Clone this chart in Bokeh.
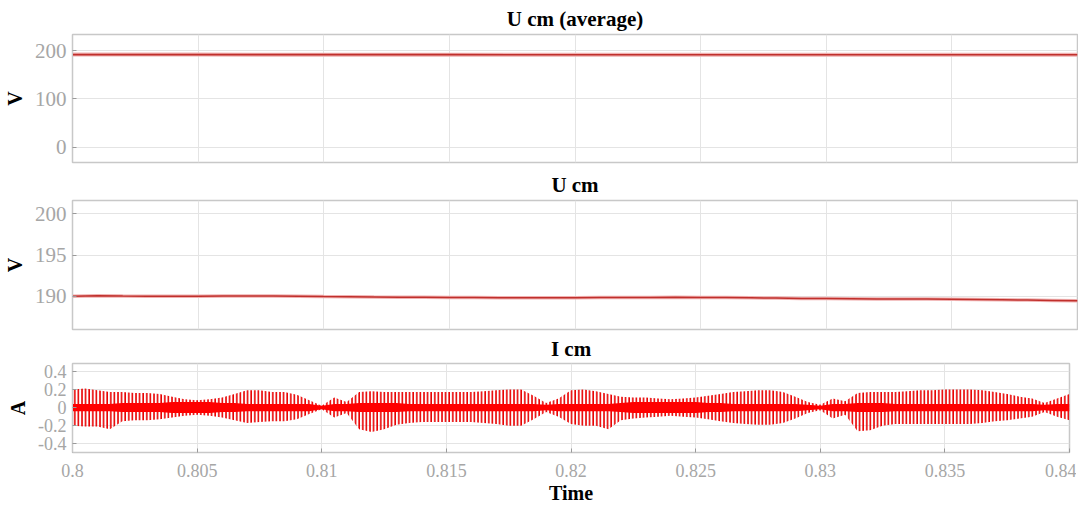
import numpy as np
from bokeh.plotting import figure
from bokeh.layouts import column
from bokeh.models import FixedTicker, Range1d
from bokeh.embed import file_html
from bokeh.resources import INLINE

# ---------------- data ----------------
# x axis
x_ticks = [0.8, 0.805, 0.81, 0.815, 0.82, 0.825, 0.83, 0.835, 0.84]
x_tick_labels = ["0.8", "0.805", "0.81", "0.815", "0.82", "0.825", "0.83", "0.835", "0.84"]

# panel 1 : U cm (average)
t_avg = [0.800, 0.805, 0.810, 0.815, 0.820, 0.825, 0.830, 0.835, 0.840]
u_avg = [192.2, 192.2, 192.1, 192.1, 192.0, 192.0, 191.9, 191.9, 191.8]
avg_ticks = [0, 100, 200]

# panel 2 : U cm
t_u = [0.800, 0.801, 0.802, 0.803, 0.804, 0.805, 0.806, 0.807, 0.808, 0.809,
       0.810, 0.811, 0.812, 0.813, 0.814, 0.815, 0.816, 0.817, 0.818, 0.819,
       0.820, 0.821, 0.822, 0.823, 0.824, 0.825, 0.826, 0.827, 0.828, 0.829,
       0.830, 0.831, 0.832, 0.833, 0.834, 0.835, 0.836, 0.837, 0.838, 0.839,
       0.840]
u_cm = [190.02, 190.07, 190.04, 190.03, 190.03, 190.03, 190.04, 190.05, 190.05, 190.02,
        189.98, 189.95, 189.92, 189.90, 189.90, 189.88, 189.86, 189.84, 189.84, 189.84,
        189.85, 189.86, 189.87, 189.88, 189.89, 189.88, 189.86, 189.84, 189.80, 189.76,
        189.74, 189.72, 189.70, 189.68, 189.68, 189.66, 189.63, 189.60, 189.56, 189.52,
        189.48]
u_ticks = [190, 195, 200]

# panel 3 : I cm  (envelope of the oscillation, every 0.5 ms)
t_i = [0.8000, 0.8005, 0.8010, 0.8015, 0.8020, 0.8025, 0.8030, 0.8035, 0.8040, 0.8045,
       0.8050, 0.8055, 0.8060, 0.8065, 0.8070, 0.8075, 0.8080, 0.8085, 0.8090, 0.8095,
       0.8100, 0.8105, 0.8110, 0.8115, 0.8120, 0.8125, 0.8130, 0.8135, 0.8140, 0.8145,
       0.8150, 0.8155, 0.8160, 0.8165, 0.8170, 0.8175, 0.8180, 0.8185, 0.8190, 0.8195,
       0.8200, 0.8205, 0.8210, 0.8215, 0.8220, 0.8225, 0.8230, 0.8235, 0.8240, 0.8245,
       0.8250, 0.8255, 0.8260, 0.8265, 0.8270, 0.8275, 0.8280, 0.8285, 0.8290, 0.8295,
       0.8300, 0.8305, 0.8310, 0.8315, 0.8320, 0.8325, 0.8330, 0.8335, 0.8340, 0.8345,
       0.8350, 0.8355, 0.8360, 0.8365, 0.8370, 0.8375, 0.8380, 0.8385, 0.8390, 0.8395,
       0.8400]
i_upper = [0.20, 0.21, 0.19, 0.17, 0.17, 0.16, 0.16, 0.15, 0.12, 0.09,
           0.08, 0.09, 0.11, 0.15, 0.19, 0.19, 0.17, 0.17, 0.14, 0.08,
           0.02, 0.11, 0.06, 0.17, 0.18, 0.17, 0.17, 0.17, 0.17, 0.17,
           0.17, 0.17, 0.17, 0.18, 0.19, 0.20, 0.20, 0.13, 0.05, 0.10,
           0.19, 0.20, 0.18, 0.15, 0.12, 0.11, 0.11, 0.10, 0.09, 0.10,
           0.11, 0.13, 0.15, 0.17, 0.18, 0.19, 0.19, 0.17, 0.12, 0.06,
           0.03, 0.10, 0.07, 0.16, 0.17, 0.17, 0.17, 0.18, 0.19, 0.19,
           0.20, 0.20, 0.20, 0.19, 0.17, 0.15, 0.12, 0.10, 0.05, 0.10,
           0.15]
i_lower = [-0.20, -0.21, -0.21, -0.24, -0.15, -0.14, -0.14, -0.13, -0.11, -0.09,
           -0.08, -0.09, -0.11, -0.14, -0.17, -0.16, -0.15, -0.15, -0.13, -0.07,
           -0.02, -0.11, -0.06, -0.24, -0.27, -0.24, -0.19, -0.17, -0.16, -0.16,
           -0.16, -0.16, -0.16, -0.17, -0.18, -0.20, -0.20, -0.13, -0.05, -0.10,
           -0.18, -0.20, -0.20, -0.24, -0.14, -0.12, -0.11, -0.10, -0.09, -0.10,
           -0.11, -0.13, -0.15, -0.17, -0.18, -0.19, -0.19, -0.17, -0.12, -0.06,
           -0.03, -0.12, -0.08, -0.26, -0.25, -0.20, -0.18, -0.18, -0.18, -0.18,
           -0.18, -0.18, -0.18, -0.17, -0.15, -0.14, -0.12, -0.10, -0.05, -0.10,
           -0.14]
i_inner = [0.04, 0.04, 0.04, 0.04, 0.05, 0.05, 0.05, 0.05, 0.06, 0.06,
           0.06, 0.06, 0.05, 0.05, 0.04, 0.04, 0.04, 0.04, 0.04, 0.04,
           0.02, 0.04, 0.04, 0.05, 0.05, 0.05, 0.05, 0.04, 0.04, 0.04,
           0.04, 0.04, 0.04, 0.04, 0.04, 0.04, 0.04, 0.04, 0.03, 0.04,
           0.04, 0.04, 0.04, 0.04, 0.05, 0.06, 0.06, 0.06, 0.06, 0.06,
           0.06, 0.05, 0.05, 0.04, 0.04, 0.04, 0.04, 0.04, 0.04, 0.03,
           0.02, 0.04, 0.04, 0.05, 0.05, 0.05, 0.04, 0.04, 0.04, 0.04,
           0.04, 0.04, 0.04, 0.04, 0.04, 0.04, 0.04, 0.04, 0.03, 0.04,
           0.04]
i_ticks = [-0.4, -0.2, 0, 0.2, 0.4]
i_tick_labels = ["-0.4", "-0.2", "0", "0.2", "0.4"]

# ---------------- styling ----------------
SERIF = "Liberation Serif"
TICK_COLOR = "#a6a6a6"
GRID_COLOR = "#e4e4e4"
FRAME_COLOR = "#c8c8c8"


def style(p, yticks, ylabels, ylabel, title, show_x, tick_size, title_standoff):
    p.title.text = title
    p.title.align = "center"
    p.title.text_font = SERIF
    p.title.text_font_style = "bold"
    p.title.text_font_size = "21px"
    p.title.text_color = "black"
    p.title.offset = 0
    p.title.standoff = title_standoff

    p.outline_line_color = FRAME_COLOR
    p.outline_line_width = 1.5
    p.background_fill_color = "white"
    p.border_fill_color = "white"

    p.xaxis.ticker = FixedTicker(ticks=x_ticks)
    p.xaxis.major_label_overrides = {t: l for t, l in zip(x_ticks, x_tick_labels)}
    p.yaxis.ticker = FixedTicker(ticks=yticks)
    p.yaxis.major_label_overrides = {t: l for t, l in zip(yticks, ylabels)}

    for ax in (p.xaxis, p.yaxis):
        ax.axis_line_color = FRAME_COLOR
        ax.major_tick_line_color = "#9a9a9a"
        ax.major_tick_in = 4
        ax.major_tick_out = 0
        ax.minor_tick_line_color = None
        ax.major_label_text_font = SERIF
        ax.major_label_text_color = TICK_COLOR
        ax.axis_label_text_font = SERIF
        ax.axis_label_text_font_style = "bold"
        ax.axis_label_text_color = "black"

    p.yaxis.major_label_text_font_size = tick_size
    p.yaxis.axis_label = ylabel
    p.yaxis.axis_label_text_font_size = "20px"
    p.yaxis.axis_label_standoff = 6
    p.yaxis.major_label_standoff = 6

    if show_x:
        p.xaxis.major_label_text_font_size = "18px"
        p.xaxis.axis_label = "Time"
        p.xaxis.axis_label_text_font_size = "20px"
        p.xaxis.axis_label_standoff = 2
        p.xaxis.major_label_standoff = 11
    else:
        p.xaxis.visible = False

    p.xgrid.grid_line_color = GRID_COLOR
    p.ygrid.grid_line_color = GRID_COLOR
    p.xgrid.ticker = FixedTicker(ticks=x_ticks)
    p.ygrid.ticker = FixedTicker(ticks=yticks)


common = dict(output_backend="svg", toolbar_location=None, tools="")

# top panel
p1 = figure(frame_width=1005, frame_height=128, x_range=Range1d(0.8, 0.84),
            y_range=Range1d(-32, 234),
            min_border_left=63, min_border_right=1, min_border_top=26, min_border_bottom=4,
            **common)
p1.line(t_avg, u_avg, line_color="#f0b0b0", line_width=4)
p1.line(t_avg, u_avg, line_color="#c0302c", line_width=1.6)
style(p1, avg_ticks, [str(v) for v in avg_ticks], "V", "U cm (average)", False, "21px", 8)

# middle panel
p2 = figure(frame_width=1005, frame_height=129, x_range=Range1d(0.8, 0.84),
            y_range=Range1d(186.0, 201.6),
            min_border_left=63, min_border_right=1, min_border_top=34, min_border_bottom=3,
            **common)
p2.line(t_u, u_cm, line_color="#f0b0b0", line_width=3.5)
p2.line(t_u, u_cm, line_color="#c0302c", line_width=1.5)
style(p2, u_ticks, [str(v) for v in u_ticks], "V", "U cm", False, "21px", 7)

# bottom panel
p3 = figure(frame_width=997, frame_height=89, x_range=Range1d(0.8, 0.84),
            y_range=Range1d(-0.495, 0.485),
            min_border_left=61, min_border_right=11, min_border_top=26, min_border_bottom=44,
            **common)
p3.varea(x=t_i, y1=i_lower, y2=i_upper, fill_color=None, fill_alpha=0,
         hatch_pattern="|", hatch_color="#e80000", hatch_scale=3.6, hatch_weight=1.6)
inner_lo = [-v for v in i_inner]
p3.varea(x=t_i, y1=inner_lo, y2=i_inner, fill_color="#ff0000", fill_alpha=1.0)
style(p3, i_ticks, i_tick_labels, "A", "I cm", True, "18px", 5)

layout = column(p1, p2, p3, spacing=0)
open("out.html", "w").write(file_html(layout, INLINE))
